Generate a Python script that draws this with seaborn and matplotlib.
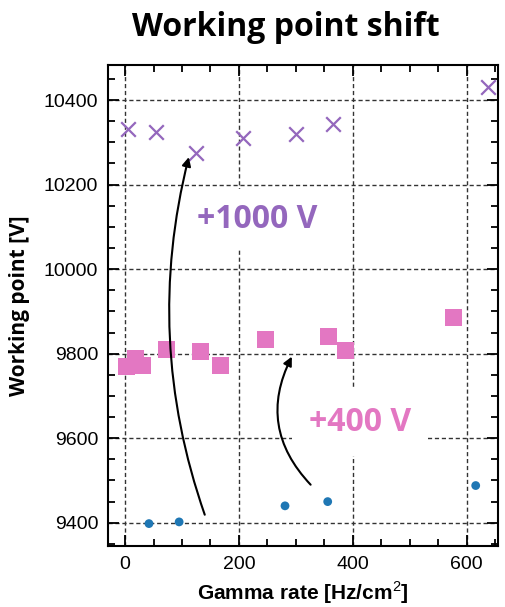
import matplotlib
matplotlib.use("Agg")
import matplotlib.pyplot as plt
import seaborn as sns
import pandas as pd
from matplotlib.ticker import MultipleLocator

# ---- data ----
hv_x = [5, 54, 125, 207, 300, 365, 637]
hv_y = [10331, 10325, 10275, 10311, 10320, 10343, 10431]

mid_x = [2, 18, 30, 72, 133, 168, 247, 358, 388, 577]
mid_y = [9769, 9788, 9772, 9810, 9806, 9772, 9833, 9840, 9808, 9885]

low_x = [42, 95, 281, 356, 616]
low_y = [9398, 9402, 9440, 9450, 9488]

x_ticks = [0, 200, 400, 600]
y_ticks = [9400, 9600, 9800, 10000, 10200, 10400]

title = "Working point shift"
xlabel = "Gamma rate [Hz/cm$^2$]"
ylabel = "Working point [V]"
label_hv = "+1000 V"
label_mid = "+400 V"

c_purple = "#9467bd"
c_pink = "#e377c2"
c_blue = "#1f77b4"

sns.set_style("ticks")
plt.rcParams["font.family"] = ["Liberation Sans", "DejaVu Sans"]
plt.rcParams["mathtext.fontset"] = "custom"
plt.rcParams["mathtext.rm"] = "Liberation Sans"
plt.rcParams["mathtext.bf"] = "Liberation Sans:bold"
plt.rcParams["text.color"] = "black"
plt.rcParams["axes.labelcolor"] = "black"

fig = plt.figure(figsize=(5.06, 6.07), dpi=100)
ax = fig.add_axes([0.2134, 0.1005, 0.984 - 0.2134, 0.893 - 0.1005])

df_hv = pd.DataFrame({"x": hv_x, "y": hv_y})
df_mid = pd.DataFrame({"x": mid_x, "y": mid_y})
df_low = pd.DataFrame({"x": low_x, "y": low_y})

sns.scatterplot(data=df_low, x="x", y="y", ax=ax, color=c_blue, marker="o",
                s=40, edgecolor="none", zorder=3)
sns.scatterplot(data=df_mid, x="x", y="y", ax=ax, color=c_pink, marker="s",
                s=150, edgecolor="none", zorder=3)
sns.scatterplot(data=df_hv, x="x", y="y", ax=ax, color=c_purple, marker="x",
                s=110, linewidth=1.6, zorder=3)

ax.set_xlim(-30, 655)
ax.set_ylim(9345, 10483)
ax.set_xticks(x_ticks)
ax.set_yticks(y_ticks)
ax.xaxis.set_minor_locator(MultipleLocator(50))
ax.yaxis.set_minor_locator(MultipleLocator(50))
ax.tick_params(which="both", direction="in", top=True, right=True,
               width=1.3, labelsize=14, colors="black", labelcolor="black")
ax.tick_params(which="major", length=8, pad=7)
ax.tick_params(which="minor", length=5)
for sp in ax.spines.values():
    sp.set_linewidth(1.5)
    sp.set_color("black")

ax.grid(True, which="major", linestyle=(0, (3, 2)), color="#333333", linewidth=1.0, zorder=0)
ax.set_axisbelow(True)

ax.set_xlabel(xlabel, fontsize=15, fontweight="bold", labelpad=5, color="black")
ax.set_ylabel(ylabel, fontsize=15, fontweight="bold", family=["Open Sans", "DejaVu Sans"],
              labelpad=10, color="black")
fig.text(0.565, 0.955, title, ha="center", va="center", fontsize=23,
         fontweight="bold", color="black", family=["Open Sans", "DejaVu Sans"])

ax.text(232, 10118, label_hv, ha="center", va="center", fontsize=23,
        fontweight="bold", color=c_purple, family=["Open Sans", "DejaVu Sans"],
        bbox=dict(facecolor="white", edgecolor="none", pad=10), zorder=2)
ax.text(413, 9637, label_mid, ha="center", va="center", fontsize=23,
        fontweight="bold", color=c_pink, family=["Open Sans", "DejaVu Sans"],
        bbox=dict(facecolor="white", edgecolor="none", pad=12), zorder=2)

ax.annotate("", xy=(112, 10265), xytext=(140, 9419),
            arrowprops=dict(arrowstyle="-|>", connectionstyle="arc3,rad=-0.15",
                            color="black", lw=1.5, mutation_scale=13,
                            shrinkA=0, shrinkB=0), zorder=4)
ax.annotate("", xy=(293, 9793), xytext=(326, 9490),
            arrowprops=dict(arrowstyle="-|>", connectionstyle="arc3,rad=-0.35",
                            color="black", lw=1.5, mutation_scale=13,
                            shrinkA=0, shrinkB=0), zorder=4)

fig.savefig("out.png", dpi=100)
